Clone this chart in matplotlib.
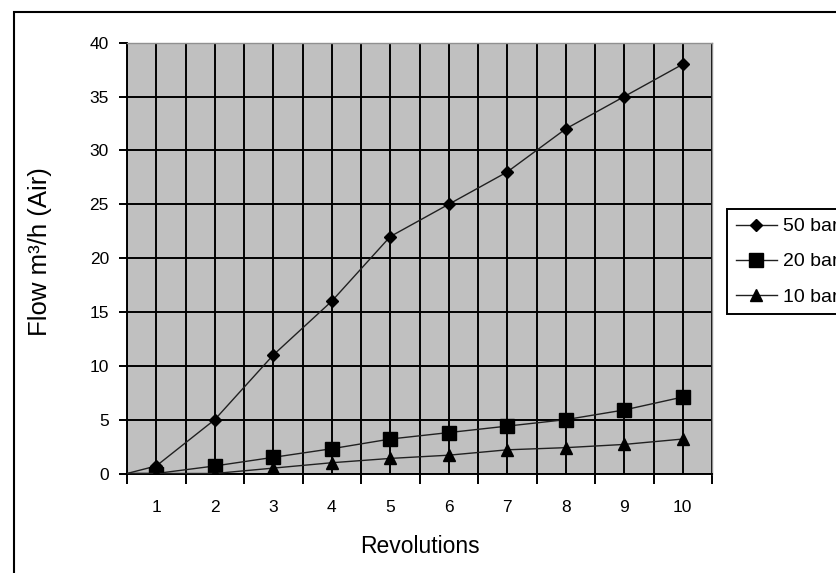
import matplotlib
matplotlib.use("Agg")
import matplotlib.pyplot as plt
from matplotlib.patches import Rectangle
from matplotlib.ticker import FixedLocator

plt.rcParams["font.family"] = ["Liberation Sans", "DejaVu Sans"]

# category positions; the leading 0.5 is where every line starts at the axis edge
categories = [1, 2, 3, 4, 5, 6, 7, 8, 9, 10]
revolutions = [0.5] + categories
flow_50bar = [0, 0.7, 5, 11, 16, 22, 25, 28, 32, 35, 38]
flow_20bar = [0, 0.0, 0.7, 1.5, 2.3, 3.2, 3.8, 4.4, 5.0, 5.9, 7.1]
flow_10bar = [0, 0.0, 0.0, 0.5, 1.0, 1.4, 1.7, 2.2, 2.4, 2.7, 3.2]

series = [
    ("50 bar", flow_50bar, "D", 6),
    ("20 bar", flow_20bar, "s", 9.5),
    ("10 bar", flow_10bar, "^", 8),
]

fig = plt.figure(figsize=(8.36, 5.73), dpi=100)
fig.patch.set_facecolor("white")

# outer chart frame (right and bottom edges fall outside the crop)
fig.patches.append(Rectangle((14 / 836, -0.1), 1.2, 1.1 - 12 / 573,
                             transform=fig.transFigure, fill=False,
                             edgecolor="black", linewidth=1.5, zorder=0))

ax = fig.add_axes([127 / 836, 1 - 473.5 / 573, 585 / 836, 430.8 / 573])
ax.set_facecolor("#c0c0c0")

for label, y, marker, ms in series:
    ax.plot(revolutions, y, color="#202020", linewidth=1.0, marker=marker,
            markersize=ms, markerfacecolor="black", markeredgecolor="black",
            markevery=list(range(1, len(revolutions))), label=label,
            zorder=3)

ax.set_xlim(0.5, 10.5)
ax.set_ylim(0, 40)

ax.xaxis.set_major_locator(FixedLocator(categories))
ax.xaxis.set_minor_locator(FixedLocator([c - 0.5 for c in categories] + [10.5]))
ax.set_yticks(range(0, 41, 5))

ax.grid(True, which="both", axis="x", color="black", linewidth=1.4)
ax.grid(True, which="major", axis="y", color="black", linewidth=1.4)
ax.set_axisbelow(True)

ax.tick_params(axis="x", which="major", length=0, pad=19, labelsize=12.5)
ax.tick_params(axis="x", which="minor", length=7, width=1.4, direction="out")
ax.tick_params(axis="y", which="major", length=6, width=1.4, direction="out",
               labelsize=12.5, pad=7)

for side in ("left", "bottom"):
    ax.spines[side].set_color("black")
    ax.spines[side].set_linewidth(1.4)
for side in ("top", "right"):
    ax.spines[side].set_color("#909090")
    ax.spines[side].set_linewidth(1.0)

ax.set_xlabel("Revolutions", fontsize=16.5)
ax.xaxis.set_label_coords(0.5, (473.5 - 535) / 430.8)
ax.set_ylabel("Flow m³/h (Air)", fontsize=18.5)
ax.yaxis.set_label_coords((52 - 127) / 585, (473.5 - 252) / 430.8)

leg = fig.legend(loc="upper left", bbox_to_anchor=(727 / 836, 1 - 209 / 573),
                 fontsize=14, frameon=True, fancybox=False, framealpha=1,
                 edgecolor="black", handlelength=2.1, handletextpad=0.35,
                 borderpad=0.45, labelspacing=0.9, borderaxespad=0)
leg.get_frame().set_linewidth(1.4)

fig.savefig("out.png", dpi=100)
